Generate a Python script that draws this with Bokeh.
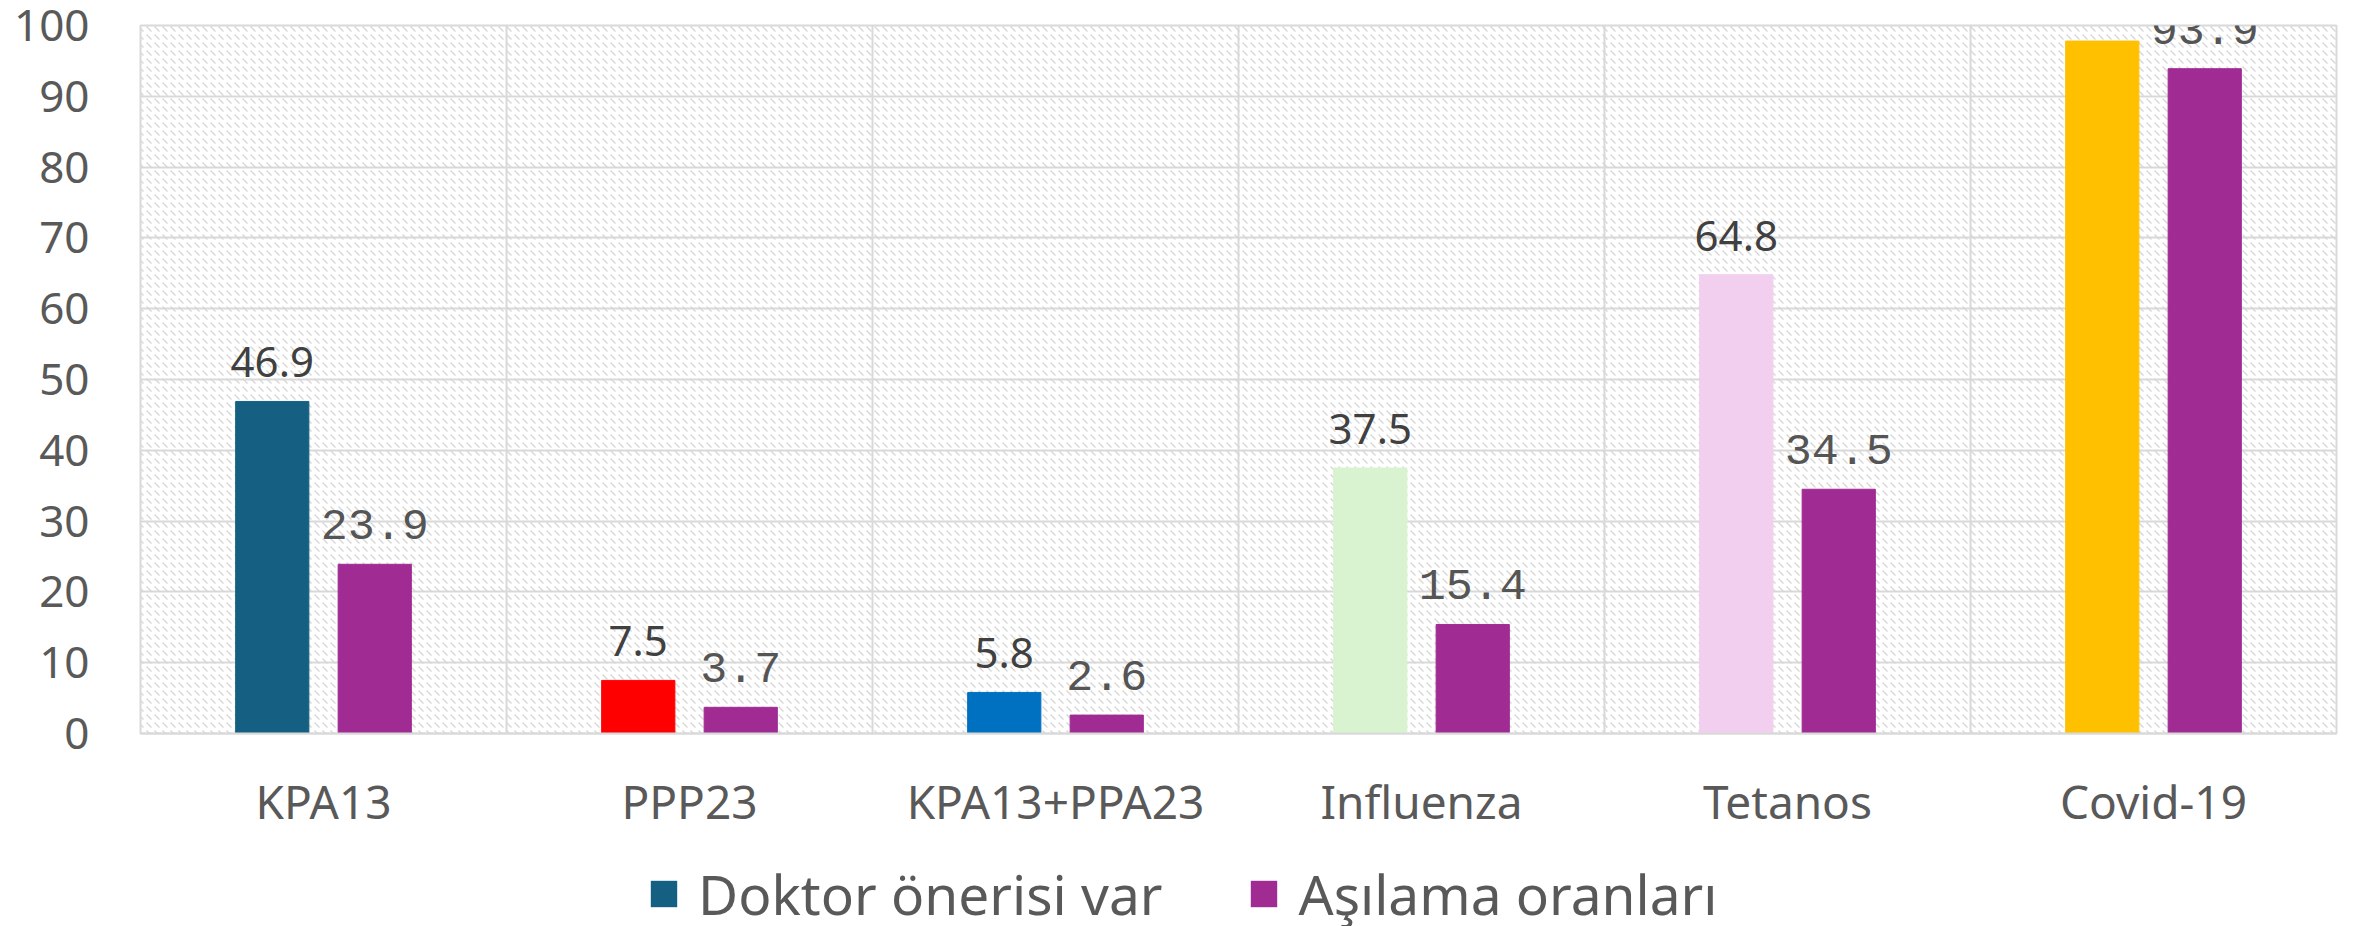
from bokeh.plotting import figure
from bokeh.layouts import column
from bokeh.models import (ColumnDataSource, FactorRange, Range1d, FixedTicker, LabelSet,
                          Legend, LegendItem, BoxAnnotation)
from bokeh.transform import dodge
from bokeh.core.properties import value
from bokeh.embed import file_html
from bokeh.resources import INLINE

categories = ["KPA13", "PPP23", "KPA13+PPA23", "Influenza", "Tetanos", "Covid-19"]
doktor = [46.9, 7.5, 5.8, 37.5, 64.8, 97.8]
asilama = [23.9, 3.7, 2.6, 15.4, 34.5, 93.9]
doktor_colors = ["#156082", "#FF0000", "#0070C0", "#D9F2D0", "#F2CEEF", "#FFC000"]
asilama_color = "#A02B93"
series_names = ["Doktor önerisi var", "Aşılama oranları"]
y_ticks = list(range(0, 101, 10))

src = ColumnDataSource(dict(
    cat=categories,
    doktor=doktor,
    asilama=asilama,
    c1=doktor_colors,
    l1=[f"{v:.1f}" for v in doktor],
    l2=[f"{v:.1f}" for v in asilama],
))

W = 2354
p = figure(width=W, height=848, x_range=FactorRange(*categories), y_range=Range1d(0, 100),
           output_backend="svg", toolbar_location=None,
           min_border_left=140, min_border_right=18, min_border_top=25, min_border_bottom=115)
p.background_fill_color = "white"
p.border_fill_color = "white"
p.outline_line_color = "#D9D9D9"
p.outline_line_width = 2

# hatched plot area
p.add_layout(BoxAnnotation(fill_color=None, line_color=None, hatch_pattern="left_diagonal_dash",
                           hatch_color="#D6D6D6", hatch_scale=8, hatch_weight=1.3, level="underlay"))


def add_bars(fig, outline=True):
    a = fig.vbar(x=dodge("cat", -0.14, range=fig.x_range), top="doktor", width=0.2, source=src,
                 fill_color="c1", line_color="c1" if outline else None)
    b = fig.vbar(x=dodge("cat", 0.14, range=fig.x_range), top="asilama", width=0.2, source=src,
                 fill_color=asilama_color, line_color=asilama_color if outline else None)
    return a, b


add_bars(p)

p.add_layout(LabelSet(x=dodge("cat", -0.14, range=p.x_range), y="doktor", text="l1", source=src,
                      text_align="center", text_baseline="alphabetic", y_offset=24,
                      text_font=value("Noto Sans"), text_font_size="42px", text_color="#404040"))
p.add_layout(LabelSet(x=dodge("cat", 0.14, range=p.x_range), y="asilama", text="l2", source=src,
                      text_align="center", text_baseline="alphabetic", y_offset=25,
                      text_font=value("Liberation Mono"), text_font_size="45px", text_color="#555555"))

# grids
p.ygrid.ticker = FixedTicker(ticks=y_ticks)
p.ygrid.grid_line_color = "#D9D9D9"
p.ygrid.grid_line_width = 2
p.xgrid.ticker = FixedTicker(ticks=list(range(len(categories) + 1)))
p.xgrid.grid_line_color = "#D9D9D9"
p.xgrid.grid_line_width = 2

# axes
p.yaxis.ticker = FixedTicker(ticks=y_ticks)
p.yaxis.axis_line_color = None
p.yaxis.major_tick_line_color = None
p.yaxis.minor_tick_line_color = None
p.yaxis.major_tick_out = 0
p.yaxis.major_tick_in = 0
p.yaxis.major_label_standoff = 51
p.yaxis.major_label_text_font = "Noto Sans"
p.yaxis.major_label_text_font_size = "44px"
p.yaxis.major_label_text_color = "#595959"

p.xaxis.axis_line_color = "#D9D9D9"
p.xaxis.axis_line_width = 2
p.xaxis.major_tick_line_color = None
p.xaxis.minor_tick_line_color = None
p.xaxis.major_tick_out = 0
p.xaxis.major_tick_in = 0
p.xaxis.major_label_standoff = 36
p.xaxis.major_label_text_font = "Noto Sans"
p.xaxis.major_label_text_font_size = "46px"
p.xaxis.major_label_text_color = "#595959"

# legend strip: hidden copies of the bars only feed the legend swatches
lg = figure(width=W, height=78, x_range=FactorRange(*categories), y_range=Range1d(0, 100),
            output_backend="svg", toolbar_location=None,
            min_border_left=0, min_border_right=0, min_border_top=0, min_border_bottom=0)
lg.axis.visible = False
lg.grid.visible = False
lg.outline_line_color = None
lg.background_fill_color = "white"
lg.border_fill_color = "white"
g1, g2 = add_bars(lg, outline=False)
g1.visible = False
g2.visible = False

legend = Legend(items=[LegendItem(label=series_names[0], renderers=[g1], index=0),
                       LegendItem(label=series_names[1], renderers=[g2], index=0)],
                orientation="horizontal", location=(507, -5),
                padding=0, margin=0, spacing=85, label_standoff=18,
                glyph_width=33, glyph_height=33, inactive_fill_alpha=0,
                label_text_font="Noto Sans", label_text_font_size="55px",
                label_text_color="#595959", border_line_color=None, background_fill_alpha=0)
lg.add_layout(legend)

layout = column(p, lg, spacing=0)
open("out.html", "w").write(file_html(layout, INLINE))
